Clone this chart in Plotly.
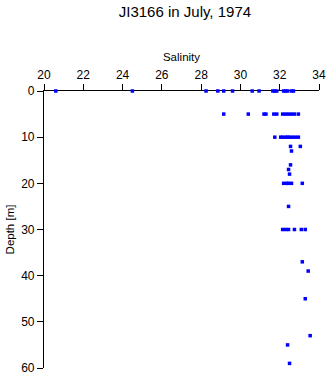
import plotly.graph_objects as go

depth_0 = [20.6, 24.5, 28.25, 28.85, 29.15, 29.6, 30.6, 30.95, 31.65, 31.75, 31.85, 32.2, 32.3, 32.4, 32.6, 32.7]
depth_5 = [29.15, 30.4, 31.2, 31.3, 31.7, 31.85, 32.15, 32.3, 32.45, 32.6, 32.75, 32.95]
depth_10 = [31.75, 32.05, 32.15, 32.3, 32.4, 32.5, 32.65, 32.8, 32.95]
deeper_depths = [12, 12, 13, 16, 17, 18, 20, 20, 20, 20, 20, 25, 30, 30, 30, 30, 30, 30, 37, 39, 45, 53, 55, 59]
deeper_salinity = [32.55, 33.05, 32.6, 32.55, 32.45, 32.5, 32.2, 32.35, 32.45, 32.6, 33.15, 32.45,
                   32.15, 32.3, 32.45, 32.75, 33.1, 33.3, 33.15, 33.45, 33.3, 33.55, 32.4, 32.5]

salinity = depth_0 + depth_5 + depth_10 + deeper_salinity
depth = [0] * len(depth_0) + [5] * len(depth_5) + [10] * len(depth_10) + deeper_depths

x_ticks = [20, 22, 24, 26, 28, 30, 32, 34]
y_ticks = [0, 10, 20, 30, 40, 50, 60]

font = "Liberation Sans, Arial, sans-serif"

fig = go.Figure()
fig.add_trace(go.Scatter(
    x=salinity, y=depth, mode="markers",
    marker=dict(symbol="square", size=3.5, color="#0000ff", line=dict(width=0)),
    showlegend=False, cliponaxis=False,
))

fig.update_layout(
    width=335, height=384,
    margin=dict(l=42, r=9, t=91, b=9),
    paper_bgcolor="white", plot_bgcolor="white",
    font=dict(family=font, size=12, color="black"),
    title=dict(text="JI3166 in July, 1974", x=0.552, xanchor="center",
               y=1 - 12 / 384, yanchor="middle", yref="container",
               font=dict(family=font, size=15, color="black")),
    xaxis=dict(side="top", range=[20, 34], tickvals=x_ticks, ticks="outside",
               ticklen=6, tickcolor="black", showline=True, linecolor="black",
               linewidth=1.2, showgrid=False, zeroline=False, layer="below traces",
               title=dict(text="Salinity", standoff=4, font=dict(size=11.5)),
               anchor="y", position=1),
    yaxis=dict(range=[60, 0], tickvals=y_ticks, ticks="outside", ticklen=6,
               tickcolor="black", showline=True, linecolor="black", linewidth=1.2,
               showgrid=False, zeroline=False, layer="below traces",
               title=dict(text="Depth [m]", standoff=4, font=dict(size=11.5))),
)

fig.write_html("out.html")
